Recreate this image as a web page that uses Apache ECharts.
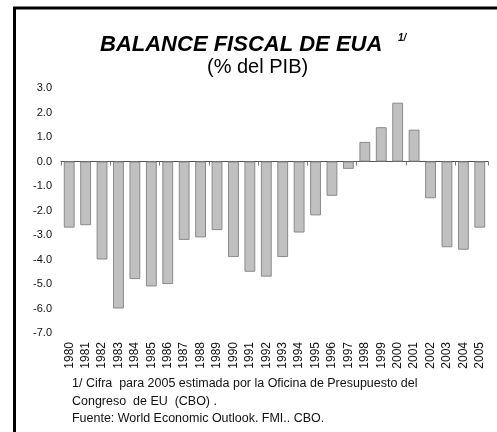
<!DOCTYPE html>
<html>
<head>
<meta charset="utf-8">
<script src="https://cdn.jsdelivr.net/npm/echarts@6/dist/echarts.min.js"></script>
<style>
    html, body { margin: 0; padding: 0; background: #fff; }
    #chart { width: 497px; height: 432px; }
</style>
</head>
<body>
<div id="chart"></div>
<script>
// datos
var years = ["1980", "1981", "1982", "1983", "1984", "1985", "1986", "1987", "1988", "1989",
    "1990", "1991", "1992", "1993", "1994", "1995", "1996", "1997", "1998", "1999",
    "2000", "2001", "2002", "2003", "2004", "2005"];
var balance = [-2.7, -2.6, -4.0, -6.0, -4.8, -5.1, -5.0, -3.2, -3.1, -2.8,
    -3.9, -4.5, -4.7, -3.9, -2.9, -2.2, -1.4, -0.3, 0.8, 1.4,
    2.4, 1.3, -1.5, -3.5, -3.6, -2.7];
var notes = [
    "1/ Cifra  para 2005 estimada por la Oficina de Presupuesto del",
    "Congreso  de EU  (CBO) .",
    "Fuente: World Economic Outlook. FMI.. CBO."
];

(function () {
    var myChart = echarts.init(document.getElementById("chart"));
    var font = "Liberation Sans, Arial, sans-serif";

    var option = {
        animation: false,
        backgroundColor: "#fff",
        grid: {
            left: 61,
            right: 9,
            top: 88,
            bottom: 99
        },
        xAxis: [{
            // eje en cero, solo linea y ticks
            type: "category",
            data: years,
            axisLine: { onZero: true, lineStyle: { color: "#555", width: 1 } },
            axisTick: { show: true, length: 4, lineStyle: { color: "#777" } },
            axisLabel: { show: false }
        }, {
            // etiquetas abajo
            type: "category",
            data: years,
            position: "bottom",
            axisLine: { show: false, onZero: false },
            axisTick: { show: false },
            axisLabel: {
                rotate: 90,
                margin: 9,
                color: "#111",
                fontSize: 12,
                fontFamily: font
            }
        }],
        yAxis: {
            type: "value",
            min: -7,
            max: 3,
            interval: 1,
            axisLine: { show: false },
            axisTick: { show: false },
            splitLine: { show: false },
            axisLabel: {
                margin: 9,
                color: "#111",
                fontSize: 11,
                fontFamily: font,
                formatter: function (v) { return v.toFixed(1); }
            }
        },
        series: [{
            type: "bar",
            xAxisIndex: 0,
            data: balance,
            barWidth: "66%",
            itemStyle: {
                color: "#c0c0c0",
                borderColor: "#8a8a8a",
                borderWidth: 1
            }
        }],
        graphic: [
            // marco
            { type: "line", shape: { x1: 14.5, y1: 8, x2: 14.5, y2: 432 }, style: { stroke: "#000", lineWidth: 3 } },
            { type: "line", shape: { x1: 13, y1: 8, x2: 497, y2: 8 }, style: { stroke: "#000", lineWidth: 3 } },
            // titulo
            {
                type: "text", x: 100, y: 34,
                style: { text: "BALANCE FISCAL DE EUA", font: "italic bold 22px " + font, fill: "#000", verticalAlign: "top" }
            },
            {
                type: "text", x: 398, y: 33,
                style: { text: "1/", font: "italic bold 10px " + font, fill: "#000", verticalAlign: "top" }
            },
            {
                type: "text", x: 207, y: 57,
                style: { text: "(% del PIB)", font: "20px " + font, fill: "#000", verticalAlign: "top" }
            },
            // notas
            {
                type: "text", x: 72, y: 378, scaleX: 1.04,
                style: { text: notes[0], font: "12px " + font, fill: "#111", verticalAlign: "top" }
            },
            {
                type: "text", x: 72, y: 396, scaleX: 1.04,
                style: { text: notes[1], font: "12px " + font, fill: "#111", verticalAlign: "top" }
            },
            {
                type: "text", x: 72, y: 413, scaleX: 1.04,
                style: { text: notes[2], font: "12px " + font, fill: "#111", verticalAlign: "top" }
            }
        ]
    };

    myChart.setOption(option);
})();
</script>
</body>
</html>
